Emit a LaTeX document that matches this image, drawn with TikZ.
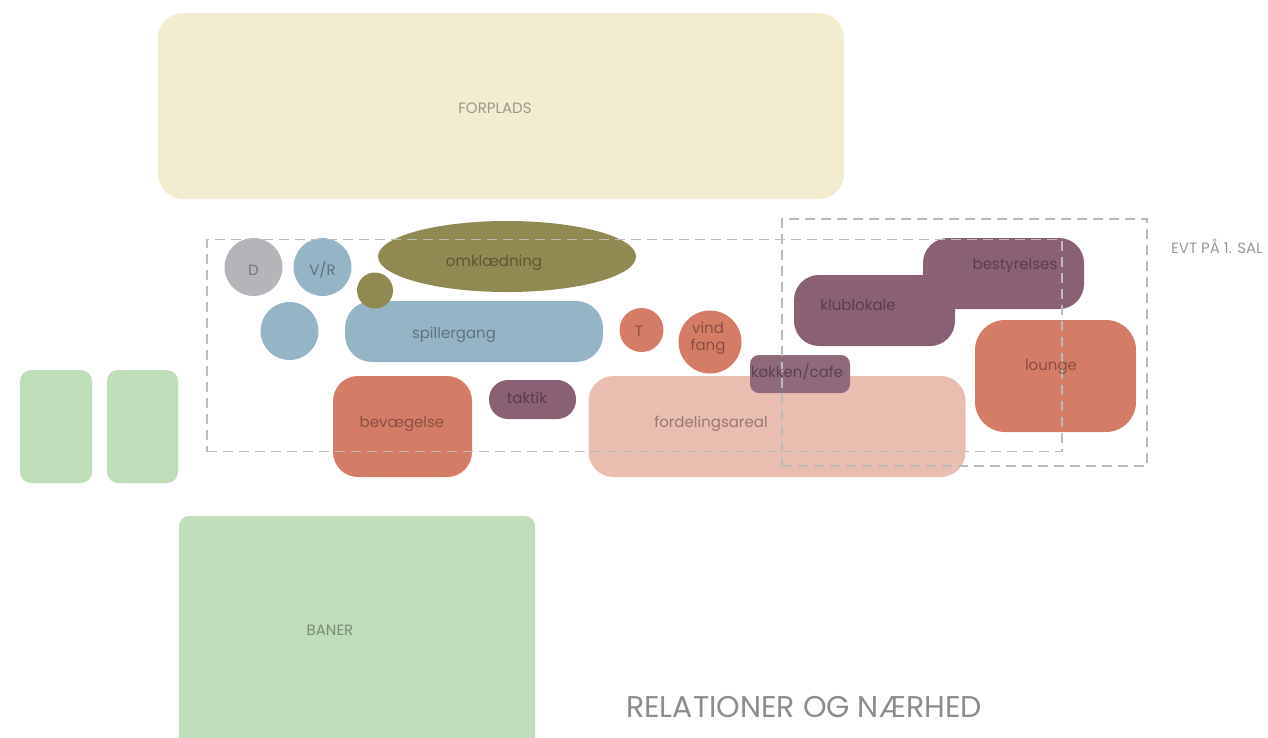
\documentclass[tikz,border=0pt]{standalone}
\usepackage{fontspec}
\setmainfont{Poppins}
\usetikzlibrary{shapes.geometric}
\definecolor{cream}{HTML}{F2EDD0}
\definecolor{olive}{HTML}{908951}
\definecolor{stone}{HTML}{B5B5B9}
\definecolor{sky}{HTML}{95B5C7}
\definecolor{salmon}{HTML}{D57C66}
\definecolor{blush}{HTML}{EABDB1}
\definecolor{plum}{HTML}{8A6174}
\definecolor{plumlight}{HTML}{8F6A7B}
\definecolor{grass}{HTML}{C0DDBA}
\definecolor{dashgray}{HTML}{BBBBBB}
\tikzset{
  area/.style={draw=none, inner sep=0pt, outer sep=0pt, rectangle},
  blob/.style={draw=none, inner sep=0pt, outer sep=0pt, circle},
  oval/.style={draw=none, inner sep=0pt, outer sep=0pt, ellipse},
  lbl/.style={inner sep=0pt, text=black, text opacity=0.36, font=\fontsize{15}{16}\selectfont, align=center},
  zone/.style={draw=dashgray, line width=1.8pt, dash pattern=on 10pt off 6pt, fill=none, inner sep=0pt, rectangle}
}
\begin{document}
\begin{tikzpicture}[x=1pt, y=-1pt]
\useasboundingbox (0,0) rectangle (1268,737);

% outdoor areas
\node[area, fill=cream, minimum width=686pt, minimum height=186pt, rounded corners=25pt] (forplads) at (501,106) {};
\node[area, fill=grass, minimum width=72pt, minimum height=113pt, rounded corners=11pt] (pitchA) at (56,426.5) {};
\node[area, fill=grass, minimum width=71pt, minimum height=113pt, rounded corners=11pt] (pitchB) at (142.5,426.5) {};
\node[area, fill=grass, minimum width=356pt, minimum height=240pt, rounded corners=10pt] (baner) at (357,636) {};

% ground floor rooms
\node[oval, fill=olive, minimum width=258pt, minimum height=71pt] (omkl) at (507,256.5) {};
\node[blob, fill=stone, minimum size=58pt] (d) at (253.5,267) {};
\node[blob, fill=sky, minimum size=58pt] (vr) at (322.5,267) {};
\node[blob, fill=sky, minimum size=58pt] (bath) at (289.5,331) {};
\node[area, fill=sky, minimum width=258pt, minimum height=61pt, rounded corners=27pt] (spiller) at (474,331.5) {};
\node[blob, fill=olive, minimum size=36pt] (olivedot) at (375,290.5) {};
\node[blob, fill=salmon, minimum size=44pt] (t) at (641.5,330) {};
\node[oval, fill=salmon, minimum width=63pt, minimum height=63pt] (vind) at (710,342) {};
\node[area, fill=blush, minimum width=377pt, minimum height=101pt, rounded corners=25pt] (ford) at (777,426.5) {};
\node[area, fill=plumlight, minimum width=100pt, minimum height=38pt, rounded corners=9pt] (kok) at (800,374) {};
\node[area, fill=salmon, minimum width=139pt, minimum height=101pt, rounded corners=25pt] (bev) at (402.5,426.5) {};
\node[area, fill=plum, minimum width=87pt, minimum height=39pt, rounded corners=19pt] (taktik) at (532.5,399.5) {};

% first floor rooms
\node[area, fill=plum, minimum width=161pt, minimum height=71pt, rounded corners=25pt] (best) at (1003.5,273.5) {};
\node[area, fill=plum, minimum width=161pt, minimum height=71pt, rounded corners=25pt] (klub) at (874.5,310.5) {};
\node[area, fill=salmon, minimum width=161pt, minimum height=112pt, rounded corners=30pt] (lounge) at (1055.5,376) {};

% dashed zones
\node[zone, minimum width=855pt, minimum height=212pt] (groundzone) at (634.5,345.5) {};
\node[zone, minimum width=365pt, minimum height=247pt] (upperzone) at (964.5,342.5) {};

% labels
\node[lbl] (forpladsTxt) at (495,108) {FORPLADS};
\node[lbl] (banerTxt) at (330,630) {BANER};
\node[lbl] (dTxt) at (253.5,270) {D};
\node[lbl] (vrTxt) at (322.5,270) {V/R};
\node[lbl] (omklTxt) at (494,263) {omklædning};
\node[lbl] (spillerTxt) at (454,335) {spillergang};
\node[lbl] (tTxt) at (639,331) {T};
\node[lbl, font=\fontsize{15}{17}\selectfont] (vindTxt) at (708,338) {vind\\fang};
\node[lbl] (kokTxt) at (797,372) {køkken/cafe};
\node[lbl] (taktikTxt) at (527,398) {taktik};
\node[lbl] (bevTxt) at (402,424) {bevægelse};
\node[lbl] (fordTxt) at (711,424) {fordelingsareal};
\node[lbl] (klubTxt) at (858,305) {klublokale};
\node[lbl] (bestTxt) at (1015,266) {bestyrelses};
\node[lbl] (loungeTxt) at (1051,367) {lounge};
\node[inner sep=0pt, text=black!40, font=\fontsize{15}{16}\selectfont, anchor=west] (evt) at (1171,246) {EVT PÅ 1. SAL};
\node[inner sep=0pt, text=black!45, font=\fontsize{30}{32}\selectfont] (title) at (804,707) {RELATIONER OG NÆRHED};
\end{tikzpicture}
\end{document}
